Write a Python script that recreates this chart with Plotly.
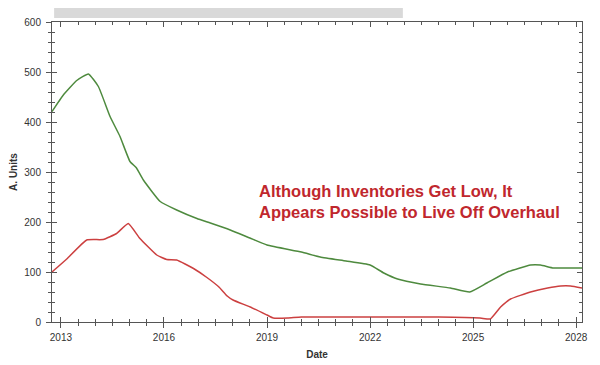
import plotly.graph_objects as go

# Green series (decimal year, A. Units)
green_x = [2012.74, 2013.07, 2013.46, 2013.8, 2014.09, 2014.43, 2014.72, 2015.01, 2015.2, 2015.4,
           2015.89, 2016.37, 2016.96, 2017.35, 2017.93, 2018.5, 2019.0, 2020.0,
           2020.55, 2021.3, 2022.0, 2022.4, 2022.8, 2023.47, 2024.34, 2024.9, 2025.4, 2026.0,
           2026.67, 2026.96, 2027.34, 2027.8, 2028.17]
green_y = [421, 454, 483, 496, 471, 411, 371, 321, 308, 284,
           241, 224, 207, 198, 184, 168, 154, 140,
           130, 122, 114, 98, 86, 76, 68, 60, 78, 100,
           114, 114, 108, 108, 108]

# Red series
red_x = [2012.74, 2013.17, 2013.75, 2014.23, 2014.62, 2014.96, 2015.3, 2015.79, 2016.08, 2016.37,
         2016.86, 2017.25, 2017.6, 2017.84, 2018.01, 2018.51, 2019.0,
         2019.18, 2019.6, 2020.0, 2022.0, 2024.0, 2025.2, 2025.5, 2025.8, 2026.09, 2026.67,
         2027.17, 2027.55, 2027.84, 2028.17]
red_y = [100, 126, 164, 165, 177, 197, 167, 134, 125, 124,
         107, 89, 70, 52, 44, 30, 14,
         8, 8, 10, 10, 10, 8, 6, 30, 46, 60,
         68, 72, 72, 68]

x_ticks = [2013, 2016, 2019, 2022, 2025, 2028]
y_ticks = [0, 100, 200, 300, 400, 500, 600]

FONT = "Liberation Sans, Arial, sans-serif"

fig = go.Figure()
fig.add_trace(go.Scatter(x=green_x, y=green_y, mode="lines",
                         line=dict(color="#4e8a3e", width=1.5, shape="spline", smoothing=0.4),
                         showlegend=False))
fig.add_trace(go.Scatter(x=red_x, y=red_y, mode="lines",
                         line=dict(color="#cc4040", width=1.5, shape="spline", smoothing=0.4),
                         showlegend=False))
# invisible trace on overlay axes so they render
fig.add_trace(go.Scatter(x=[2013], y=[0], xaxis="x2", yaxis="y2", mode="markers",
                         marker=dict(opacity=0), showlegend=False, hoverinfo="skip"))

xr = [2012.74, 2028.17]
yr = [0, 600]
AX = "#555555"

fig.update_layout(
    width=592, height=357,
    margin=dict(l=44, r=18, t=14, b=43),
    paper_bgcolor="white", plot_bgcolor="white",
    font=dict(family=FONT, size=10, color="#333333"),
    xaxis=dict(range=xr, tickvals=x_ticks, ticktext=[str(v) for v in x_ticks], automargin=False,
               showgrid=False, zeroline=False, showline=True, linecolor=AX, linewidth=1,
               mirror="ticks", ticks="inside", ticklen=5, tickcolor=AX, ticklabelstandoff=6,
               minor=dict(dtick=0.5, tick0=2013, ticks="inside", ticklen=3, tickcolor=AX),
               tickfont=dict(size=10, color="#333333"),
               title=dict(text="<b>Date</b>", font=dict(size=10, color="#333333"), standoff=8)),
    yaxis=dict(range=yr, tickvals=y_ticks, automargin=False,
               showgrid=False, zeroline=False, showline=True, linecolor=AX, linewidth=1,
               mirror="ticks", ticks="inside", ticklen=5, tickcolor=AX, ticklabelstandoff=8,
               minor=dict(dtick=20, tick0=0, ticks="inside", ticklen=3, tickcolor=AX),
               tickfont=dict(size=10, color="#333333"),
               title=dict(text="<b>A. Units</b>", font=dict(size=10, color="#333333"), standoff=10)),
    xaxis2=dict(range=xr, overlaying="x", side="bottom", tickvals=x_ticks, showticklabels=False,
                showgrid=False, zeroline=False, showline=False, automargin=False,
                ticks="outside", ticklen=5, tickcolor=AX,
                minor=dict(dtick=0.5, tick0=2013, ticks="outside", ticklen=3, tickcolor=AX)),
    yaxis2=dict(range=yr, overlaying="y", side="left", tickvals=y_ticks, showticklabels=False,
                showgrid=False, zeroline=False, showline=False, automargin=False,
                ticks="outside", ticklen=5, tickcolor=AX,
                minor=dict(dtick=20, tick0=0, ticks="outside", ticklen=3, tickcolor=AX)),
    shapes=[dict(type="rect", xref="paper", yref="paper", x0=0.004, x1=0.662, y0=1.013, y1=1.063,
                 fillcolor="#d9d9d9", line=dict(width=0), layer="above")],
    annotations=[dict(xref="paper", yref="paper", x=0.387, y=0.403, xanchor="left", yanchor="middle",
                      align="left", showarrow=False,
                      text="Although Inventories Get Low, It<br>Appears Possible to Live Off Overhaul",
                      font=dict(family=FONT, size=16.5, color="#c0272d", weight="bold"))],
)

fig.write_html("out.html")
